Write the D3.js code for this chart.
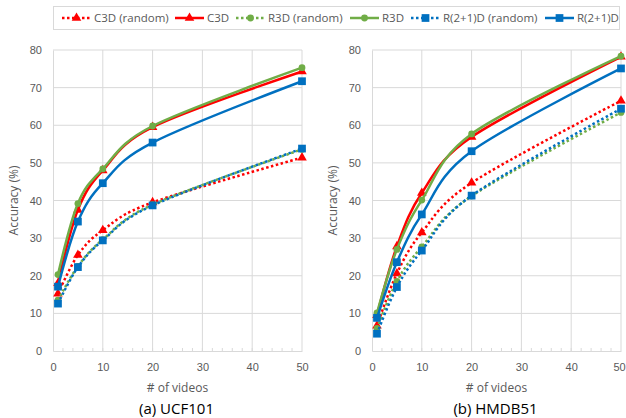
<!DOCTYPE html>
<html>
<head>
<meta charset="utf-8">
<script src="https://cdn.jsdelivr.net/npm/d3@7"></script>
<style>
  body { margin: 0; background: #fff; }
  svg { font-family: "Open Sans", "Noto Sans", sans-serif; }
  .tick text { fill: #595959; font-size: 11px; }
</style>
</head>
<body>
<script>
// number of videos per class
const videos = [1, 5, 10, 20, 50];
const xTicks = [0, 10, 20, 30, 40, 50];
const yTicks = [0, 10, 20, 30, 40, 50, 60, 70, 80];

// UCF101
const c3dRandUcf = [15.2, 25.5, 32.1, 39.5, 51.4];
const c3dUcf = [18.0, 37.5, 48.0, 59.5, 74.3];
const r3dRandUcf = [13.5, 22.5, 29.6, 38.9, 53.6];
const r3dUcf = [20.3, 39.2, 48.4, 59.8, 75.3];
const r21dRandUcf = [12.6, 22.3, 29.4, 38.7, 53.8];
const r21dUcf = [17.1, 34.4, 44.6, 55.4, 71.7];

// HMDB51
const c3dRandHmdb = [6.7, 20.6, 31.5, 44.7, 66.5];
const c3dHmdb = [9.5, 27.8, 42.0, 56.9, 78.2];
const r3dRandHmdb = [6.0, 18.5, 27.7, 41.2, 63.4];
const r3dHmdb = [10.1, 27.0, 40.1, 57.7, 78.4];
const r21dRandHmdb = [4.6, 17.0, 26.7, 41.3, 64.4];
const r21dHmdb = [8.8, 23.6, 36.3, 53.1, 75.1];

const seriesNames = ["C3D (random)", "C3D", "R3D (random)", "R3D", "R(2+1)D (random)", "R(2+1)D"];
const seriesColors = ["#ff0000", "#ff0000", "#70ad47", "#70ad47", "#0070c0", "#0070c0"];
const seriesDotted = [true, false, true, false, true, false];
const seriesMarkers = ["triangle", "triangle", "circle", "circle", "square", "square"];

const panels = [
  { caption: "(a) UCF101", left: 53, data: [c3dRandUcf, c3dUcf, r3dRandUcf, r3dUcf, r21dRandUcf, r21dUcf] },
  { caption: "(b) HMDB51", left: 372, data: [c3dRandHmdb, c3dHmdb, r3dRandHmdb, r3dHmdb, r21dRandHmdb, r21dHmdb] }
];

const width = 626, height = 418;
const plotW = 249, plotTop = 50, plotBottom = 351;

const svg = d3.select("body").append("svg")
  .attr("width", width)
  .attr("height", height);

const markerPath = (type, size) => {
  const sym = type === "triangle" ? d3.symbolTriangle : type === "circle" ? d3.symbolCircle : d3.symbolSquare;
  return d3.symbol().type(sym).size(size)();
};
const markerSize = { triangle: 40, circle: 36, square: 60 };

panels.forEach((p, pi) => {
  const x = d3.scaleLinear().domain([0, 50]).range([p.left, p.left + plotW]);
  const y = d3.scaleLinear().domain([0, 80]).range([plotBottom, plotTop]);
  const g = svg.append("g");

  // grid lines
  g.append("g").selectAll("line").data(yTicks.slice(1)).join("line")
    .attr("x1", x(0)).attr("x2", x(50))
    .attr("y1", d => y(d)).attr("y2", d => y(d))
    .attr("stroke", "#d9d9d9").attr("stroke-width", 1);
  g.append("g").selectAll("line").data(xTicks.slice(1)).join("line")
    .attr("x1", d => x(d)).attr("x2", d => x(d))
    .attr("y1", y(0)).attr("y2", y(80))
    .attr("stroke", "#d9d9d9").attr("stroke-width", 1);

  // minor ticks on bottom axis
  g.append("g").selectAll("line").data(d3.range(2, 50, 2)).join("line")
    .attr("x1", d => x(d)).attr("x2", d => x(d))
    .attr("y1", y(0)).attr("y2", y(0) - 3)
    .attr("stroke", "#d9d9d9");

  // axes
  const xAxis = g.append("g")
    .attr("transform", `translate(0,${plotBottom})`)
    .call(d3.axisBottom(x).tickValues(xTicks).tickSize(0).tickPadding(12));
  xAxis.select(".domain").attr("stroke", "#d9d9d9");
  // keep the last label of the right panel inside the page
  if (pi === 1) xAxis.selectAll(".tick text").filter(d => d === 50).attr("dx", -2);

  const yAxis = g.append("g")
    .attr("transform", `translate(${p.left},0)`)
    .call(d3.axisLeft(y).tickValues(yTicks).tickSize(0).tickPadding(11));
  yAxis.select(".domain").attr("stroke", "#d9d9d9");

  // axis titles
  g.append("text")
    .attr("transform", `translate(${p.left - 35},${(plotTop + plotBottom) / 2}) rotate(-90)`)
    .attr("text-anchor", "middle")
    .attr("fill", "#595959").attr("font-size", 12)
    .text("Accuracy (%)");
  g.append("text")
    .attr("x", p.left + plotW / 2).attr("y", 392)
    .attr("text-anchor", "middle")
    .attr("fill", "#595959").attr("font-size", 12)
    .text("# of videos");
  g.append("text")
    .attr("x", p.left + plotW / 2 - 1).attr("y", 414)
    .attr("text-anchor", "middle")
    .attr("fill", "#000").attr("font-size", 15)
    .text(p.caption);

  // series (smoothed like the original spreadsheet chart)
  const line = d3.line()
    .x((d, i) => x(videos[i]))
    .y(d => y(d))
    .curve(d3.curveCatmullRom.alpha(0));

  p.data.forEach((vals, s) => {
    g.append("path")
      .datum(vals)
      .attr("d", line)
      .attr("fill", "none")
      .attr("stroke", seriesColors[s])
      .attr("stroke-width", 2.5)
      .attr("stroke-dasharray", seriesDotted[s] ? "2.5,2.5" : null);
    g.append("g").selectAll("path").data(vals).join("path")
      .attr("transform", (d, i) => `translate(${x(videos[i])},${y(d)})`)
      .attr("d", markerPath(seriesMarkers[s], markerSize[seriesMarkers[s]]))
      .attr("fill", seriesColors[s]);
  });
});

// legend
const legend = svg.append("g");
legend.append("rect")
  .attr("x", 53.5).attr("y", 6.5).attr("width", 566).attr("height", 23)
  .attr("fill", "#fff").attr("stroke", "#d9d9d9");

const legendX = [62, 175, 236, 350, 411, 545];
seriesNames.forEach((name, s) => {
  const lx = legendX[s], ly = 18;
  legend.append("line")
    .attr("x1", lx).attr("x2", lx + 29)
    .attr("y1", ly).attr("y2", ly)
    .attr("stroke", seriesColors[s])
    .attr("stroke-width", 2.5)
    .attr("stroke-dasharray", seriesDotted[s] ? "2.5,2.5" : null);
  legend.append("path")
    .attr("transform", `translate(${lx + 14.5},${ly})`)
    .attr("d", markerPath(seriesMarkers[s], markerSize[seriesMarkers[s]]))
    .attr("fill", seriesColors[s]);
  legend.append("text")
    .attr("x", lx + 32).attr("y", ly + 4)
    .attr("fill", "#595959").attr("font-size", 11.5)
    .text(name);
});
</script>
</body>
</html>
